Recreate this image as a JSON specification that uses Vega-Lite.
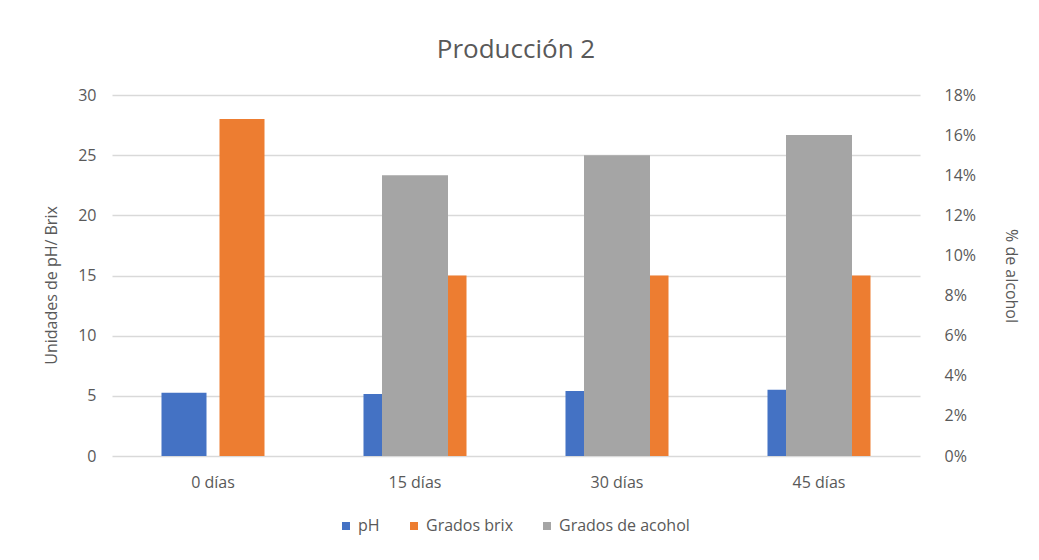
{
  "$schema": "https://vega.github.io/schema/vega-lite/v6.json",
  "width": 808,
  "height": 361,
  "autosize": {"type": "none"},
  "padding": {"left": 112, "top": 95, "right": 118, "bottom": 104},
  "background": "white",
  "title": {"text": "Producción 2", "fontSize": 26, "font": "Open Sans", "fontWeight": "normal", "color": "#595959", "offset": 24, "anchor": "middle"},
  "config": {
    "view": {"stroke": null},
    "font": "Open Sans",
    "axis": {"labelColor": "#595959", "titleColor": "#595959", "labelFontSize": 16, "titleFontSize": 16, "titleFontWeight": "normal", "ticks": false, "domain": false, "gridColor": "#D9D9D9", "gridWidth": 1.3}
  },
  "data": {"values": [
    {"dia": "0 días", "serie": "pH", "valor": 5.25},
    {"dia": "0 días", "serie": "Grados brix", "valor": 28},
    {"dia": "0 días", "serie": "Grados de acohol", "valor": 0},
    {"dia": "15 días", "serie": "pH", "valor": 5.15},
    {"dia": "15 días", "serie": "Grados brix", "valor": 15},
    {"dia": "15 días", "serie": "Grados de acohol", "valor": 0.14},
    {"dia": "30 días", "serie": "pH", "valor": 5.4},
    {"dia": "30 días", "serie": "Grados brix", "valor": 15},
    {"dia": "30 días", "serie": "Grados de acohol", "valor": 0.15},
    {"dia": "45 días", "serie": "pH", "valor": 5.5},
    {"dia": "45 días", "serie": "Grados brix", "valor": 15},
    {"dia": "45 días", "serie": "Grados de acohol", "valor": 0.16}
  ]},
  "encoding": {
    "x": {"field": "dia", "type": "nominal", "sort": ["0 días", "15 días", "30 días", "45 días"],
      "scale": {"paddingInner": 0.49, "paddingOuter": 0.245},
      "axis": {"title": null, "labelAngle": 0, "labelPadding": 18, "grid": false}},
    "color": {"field": "serie", "type": "nominal",
      "scale": {"domain": ["pH", "Grados brix", "Grados de acohol"], "range": ["#4472C4", "#ED7D31", "#A5A5A5"]},
      "legend": {"title": null, "orient": "none", "legendX": 226, "legendY": 423, "direction": "horizontal", "symbolType": "square", "symbolSize": 64, "labelFontSize": 16, "labelColor": "#595959", "columnPadding": 26, "symbolStrokeWidth": 0, "labelOffset": 4}}
  },
  "layer": [
    {
      "transform": [{"filter": "datum.serie !== 'Grados de acohol'"}],
      "mark": {"type": "bar"},
      "encoding": {
        "xOffset": {"field": "serie", "type": "nominal", "sort": ["pH", "Grados brix"], "scale": {"paddingInner": 0.224, "paddingOuter": 0}},
        "y": {"field": "valor", "type": "quantitative", "scale": {"domain": [0, 30]},
          "axis": {"title": "Unidades de pH/ Brix", "values": [0, 5, 10, 15, 20, 25, 30], "labelPadding": 16, "titleX": -53, "titleY": 190}}
      }
    },
    {
      "transform": [{"filter": "datum.serie === 'Grados de acohol'"}],
      "mark": {"type": "bar", "width": 66},
      "encoding": {
        "y": {"field": "valor", "type": "quantitative", "scale": {"domain": [0, 0.18]},
          "axis": {"title": "% de alcohol", "orient": "right", "format": ".0%", "values": [0, 0.02, 0.04, 0.06, 0.08, 0.1, 0.12, 0.14, 0.16, 0.18], "labelAlign": "left", "labelPadding": 24, "grid": false, "titleX": 82}}
      }
    }
  ],
  "resolve": {"scale": {"y": "independent"}}
}
